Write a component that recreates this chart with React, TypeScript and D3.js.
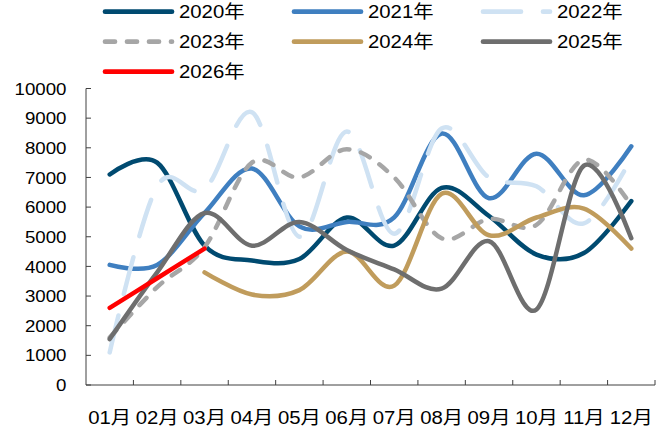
import React from "react";
import * as d3 from "d3";

const months = ["01月", "02月", "03月", "04月", "05月", "06月", "07月", "08月", "09月", "10月", "11月", "12月"];
const yTicks = [0, 1000, 2000, 3000, 4000, 5000, 6000, 7000, 8000, 9000, 10000];

const s2020 = [7100, 7500, 4700, 4200, 4250, 5650, 4700, 6650, 5700, 4400, 4450, 6200];
const s2021 = [4050, 4050, 5800, 7300, 5350, 5500, 5650, 8480, 6300, 7800, 6400, 8050];
const s2022 = [1100, 6700, 6600, 9200, 5000, 8550, 5100, 8650, 7000, 6700, 5450, 7650];
const s2023 = [1600, 3300, 4650, 7500, 7000, 7950, 7000, 4950, 5600, 5400, 7600, 6050];
const s2024 = [null, null, 3800, 3050, 3200, 4500, 3350, 6450, 5050, 5650, 5950, 4600];
const s2025 = [1550, 3800, 5800, 4700, 5500, 4550, 3900, 3250, 4850, 2550, 7400, 4950];
const s2026 = [2600, 3600, 4600, null, null, null, null, null, null, null, null, null];

const series = [
  { name: "2020年", values: s2020, color: "#004a70", dash: null },
  { name: "2021年", values: s2021, color: "#3f7fc0", dash: null },
  { name: "2022年", values: s2022, color: "#cfe2f3", dash: "38 22" },
  { name: "2023年", values: s2023, color: "#a6a6a6", dash: "10 12" },
  { name: "2024年", values: s2024, color: "#c09c5c", dash: null },
  { name: "2025年", values: s2025, color: "#6e6e6e", dash: null },
  { name: "2026年", values: s2026, color: "#ff0000", dash: null },
];

const font = "'Liberation Sans', Arial, 'Noto Sans CJK SC', sans-serif";

export default function App() {
  const width = 669;
  const height = 430;
  const left = 86;
  const right = 655;
  const top = 88.5;
  const bottom = 385;

  const x = d3.scaleBand().domain(months).range([left, right]);
  const y = d3.scaleLinear().domain([0, 10000]).range([bottom, top]);

  const line = d3
    .line<number | null>()
    .defined(d => d != null)
    .x((_, i) => (x(months[i]) as number) + x.bandwidth() / 2)
    .y(d => y(d as number))
    .curve(d3.curveCardinal);

  const legendCols = [103, 292, 481];
  const legendRows = [11.7, 41.7, 71.7];

  return (
    <svg width={width} height={height} style={{ position: "absolute", left: 0, top: 0 }}>
      <rect width={width} height={height} fill="#fff" />

      {/* legend */}
      {series.map((s, i) => {
        const lx = legendCols[i % 3];
        const ly = legendRows[Math.floor(i / 3)];
        return (
          <g key={s.name}>
            <line
              x1={lx + 2}
              x2={lx + 69}
              y1={ly}
              y2={ly}
              stroke={s.color}
              strokeWidth={4.7}
              strokeLinecap="round"
              strokeDasharray={s.dash || undefined}
            />
            <text
              transform={`translate(${lx + 76},${ly}) scale(1.1,1)`}
              dy="0.36em"
              fontFamily={font}
              fontSize={18.5}
              fill="#000"
            >
              {s.name}
            </text>
          </g>
        );
      })}

      {/* axes */}
      <line x1={left} x2={left} y1={top} y2={bottom} stroke="#404040" strokeWidth={1} />
      <line x1={left} x2={right} y1={bottom} y2={bottom} stroke="#404040" strokeWidth={1} />
      {yTicks.map(t => (
        <g key={t}>
          <line x1={left} x2={left + 5} y1={y(t)} y2={y(t)} stroke="#404040" />
          <text
            transform={`translate(${left - 19.5},${y(t)}) scale(1.1,1)`}
            dy="0.36em"
            textAnchor="end"
            fontFamily={font}
            fontSize={17}
            fill="#000"
          >
            {t}
          </text>
        </g>
      ))}
      {months.map((m, i) => (
        <g key={m}>
          <line
            x1={(x(m) as number) + x.bandwidth()}
            x2={(x(m) as number) + x.bandwidth()}
            y1={bottom}
            y2={bottom - 5}
            stroke="#404040"
          />
          <text
            transform={`translate(${(x(m) as number) + x.bandwidth() / 2},${417}) scale(1.1,1)`}
            dy="0.36em"
            textAnchor="middle"
            fontFamily={font}
            fontSize={18.5}
            fill="#000"
          >
            {m}
          </text>
        </g>
      ))}

      {/* lines */}
      {series.map(s => (
        <path
          key={s.name}
          d={line(s.values) || ""}
          fill="none"
          stroke={s.color}
          strokeWidth={4.5}
          strokeLinecap="round"
          strokeLinejoin="round"
          strokeDasharray={s.dash || undefined}
        />
      ))}
    </svg>
  );
}
